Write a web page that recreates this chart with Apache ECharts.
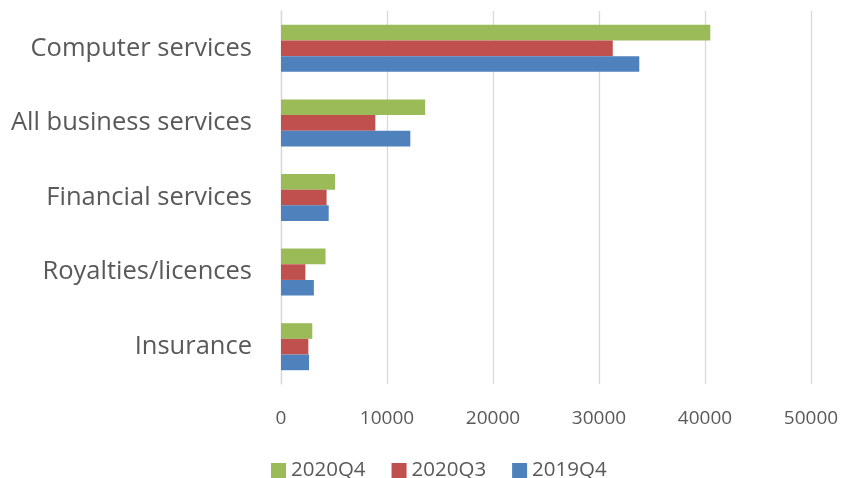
<!DOCTYPE html>
<html>
<head>
<meta charset="utf-8">
<script src="https://cdn.jsdelivr.net/npm/echarts@6/dist/echarts.min.js"></script>
<style>
  html, body { margin: 0; padding: 0; background: #fff; }
  #chart { width: 844px; height: 478px; }
</style>
</head>
<body>
<div id="chart"></div>
<script>
// Service categories, listed from the bottom of the axis upward
const categories = ['Insurance', 'Royalties/licences', 'Financial services', 'All business services', 'Computer services'];

// Values per quarter
const q2019Q4 = [2640, 3100, 4500, 12200, 33800];
const q2020Q3 = [2580, 2300, 4300, 8900, 31300];
const q2020Q4 = [2950, 4200, 5100, 13600, 40500];

const xTicks = { min: 0, max: 50000, interval: 10000 };
const legendOrder = ['2020Q4', '2020Q3', '2019Q4'];

const FONT = '"Open Sans", sans-serif';
const TEXT = '#595959';

const chart = echarts.init(document.getElementById('chart'), null, { renderer: 'canvas' });

function barSeries(name, data, color) {
  return {
    name: name,
    type: 'bar',
    data: data,
    barGap: '0%',
    barCategoryGap: '37%',
    itemStyle: { color: color },
    emphasis: { disabled: true }
  };
}

chart.setOption({
  animation: false,
  textStyle: { fontFamily: FONT },
  grid: { left: 281, right: 33, top: 11, bottom: 94, containLabel: false },
  legend: {
    data: legendOrder,
    left: 271,
    top: 460,
    padding: 0,
    itemWidth: 15,
    itemHeight: 15,
    itemGap: 26,
    icon: 'rect',
    textStyle: { fontFamily: FONT, fontSize: 20.5, color: TEXT, padding: [0, 0, 0, 0] }
  },
  xAxis: {
    type: 'value',
    min: xTicks.min,
    max: xTicks.max,
    interval: xTicks.interval,
    axisLine: { show: false },
    axisTick: { show: false },
    splitLine: { lineStyle: { color: '#d9d9d9', width: 1.3 } },
    axisLabel: {
      fontFamily: FONT, fontSize: 19, color: TEXT, margin: 25,
      formatter: function (v) { return String(v); }
    }
  },
  yAxis: {
    type: 'category',
    data: categories,
    axisLine: { show: true, lineStyle: { color: '#d9d9d9', width: 1.3 } },
    axisTick: { show: false },
    axisLabel: { fontFamily: FONT, fontSize: 25.5, color: TEXT, margin: 29 }
  },
  // The first series sits at the top of each category band
  series: [
    barSeries('2020Q4', q2020Q4, '#9BBB59'),
    barSeries('2020Q3', q2020Q3, '#C0504D'),
    barSeries('2019Q4', q2019Q4, '#4F81BD')
  ]
});
</script>
</body>
</html>
